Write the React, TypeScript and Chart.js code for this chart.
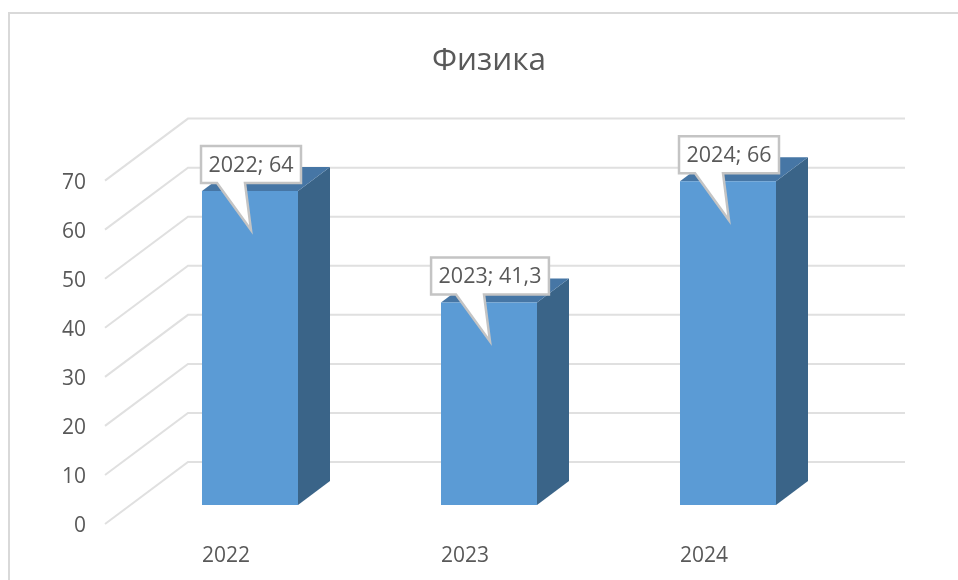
import React, { useEffect, useRef } from "react";
import { Chart, registerables } from "chart.js";

Chart.register(...registerables);

const categories = ["2022", "2023", "2024"];
const seriesValues = [64, 41.3, 66];
const chartTitle = "Физика";
const yMax = 70;
const yStep = 10;

const FONT = "'Open Sans', 'Noto Sans', sans-serif";
const TEXT = "#595959";
const GRID = "#e0e0e0";
const FRONT = "#5b9bd5";
const TOP = "#4676a5";
const SIDE = "#3a6488";

const depthX = 32;
const depthY = 24;
const wall = { frontX: 105, frontDy: 19, backX: 188, backDy: -43, right: 905 };

const frame3d = {
  id: "frame3d",
  beforeDraw(chart: any) {
    const { ctx, width, height } = chart;
    ctx.save();
    ctx.fillStyle = "#ffffff";
    ctx.fillRect(0, 0, width, height);
    ctx.strokeStyle = "#d9d9d9";
    ctx.lineWidth = 2;
    ctx.beginPath();
    ctx.moveTo(9, height);
    ctx.lineTo(9, 13);
    ctx.lineTo(width, 13);
    ctx.stroke();
    ctx.restore();
  },
  beforeDatasetsDraw(chart: any) {
    const { ctx } = chart;
    const yScale = chart.scales.y;
    ctx.save();
    ctx.strokeStyle = GRID;
    ctx.lineWidth = 2;
    yScale.ticks.forEach((t: any) => {
      const py = yScale.getPixelForValue(t.value);
      ctx.beginPath();
      ctx.moveTo(wall.frontX, py + wall.frontDy);
      ctx.lineTo(wall.backX, py + wall.backDy);
      ctx.lineTo(wall.right, py + wall.backDy);
      ctx.stroke();
    });
    chart.getDatasetMeta(0).data.forEach((bar: any) => {
      const l = bar.x - bar.width / 2;
      const r = bar.x + bar.width / 2;
      ctx.fillStyle = SIDE;
      ctx.beginPath();
      ctx.moveTo(r, bar.y);
      ctx.lineTo(r + depthX, bar.y - depthY);
      ctx.lineTo(r + depthX, bar.base - depthY);
      ctx.lineTo(r, bar.base);
      ctx.closePath();
      ctx.fill();
      ctx.fillStyle = TOP;
      ctx.beginPath();
      ctx.moveTo(l, bar.y);
      ctx.lineTo(l + depthX, bar.y - depthY);
      ctx.lineTo(r + depthX, bar.y - depthY);
      ctx.lineTo(r, bar.y);
      ctx.closePath();
      ctx.fill();
    });
    ctx.restore();
  },
  afterDatasetsDraw(chart: any) {
    const { ctx } = chart;
    ctx.save();
    ctx.font = `21.5px ${FONT}`;
    ctx.textAlign = "center";
    ctx.textBaseline = "middle";
    chart.getDatasetMeta(0).data.forEach((bar: any, i: number) => {
      const label = `${categories[i]}; ${String(seriesValues[i]).replace(".", ",")}`;
      const w = ctx.measureText(label).width + 15;
      const boxL = bar.x - w / 2 + 1;
      const boxR = boxL + w;
      const boxB = bar.y - 8;
      const boxT = boxB - 37;
      const tipX = bar.x + 1;
      const tipY = bar.y + 39;
      ctx.beginPath();
      ctx.moveTo(boxL, boxT);
      ctx.lineTo(boxR, boxT);
      ctx.lineTo(boxR, boxB);
      ctx.lineTo(bar.x - 5, boxB);
      ctx.lineTo(tipX, tipY);
      ctx.lineTo(bar.x - 33, boxB);
      ctx.lineTo(boxL, boxB);
      ctx.closePath();
      ctx.fillStyle = "#ffffff";
      ctx.fill();
      ctx.strokeStyle = "#c4c4c4";
      ctx.lineWidth = 2.5;
      ctx.stroke();
      ctx.fillStyle = TEXT;
      ctx.fillText(label, (boxL + boxR) / 2, (boxT + boxB) / 2 + 1);
    });
    ctx.restore();
  },
};

export default function App() {
  const ref = useRef<HTMLCanvasElement>(null);
  useEffect(() => {
    const chart = new Chart(ref.current!, {
      type: "bar",
      data: {
        labels: categories,
        datasets: [
          {
            data: seriesValues,
            backgroundColor: FRONT,
            borderWidth: 0,
            barPercentage: 0.4017,
            categoryPercentage: 1,
          },
        ],
      },
      options: {
        responsive: false,
        animation: false,
        layout: { padding: { top: 0, left: 0, right: 110.5, bottom: 0 } },
        plugins: {
          legend: { display: false },
          tooltip: { enabled: false },
          title: {
            display: true,
            text: chartTitle,
            fullSize: false,
            color: TEXT,
            font: { family: FONT, size: 31.5, weight: "normal", lineHeight: 1.2 },
            padding: { top: 42, bottom: 81.8 },
          },
        },
        scales: {
          x: {
            grid: { display: false, drawTicks: false },
            border: { display: false },
            ticks: {
              color: TEXT,
              font: { family: FONT, size: 21 },
              labelOffset: -24,
              padding: 38.5,
              maxRotation: 0,
            },
            afterFit: (s: any) => {
              s.height = 75;
            },
          },
          y: {
            min: 0,
            max: yMax,
            grid: { display: false, drawTicks: false },
            border: { display: false },
            ticks: {
              stepSize: yStep,
              color: TEXT,
              font: { family: FONT, size: 21 },
              labelOffset: 21,
              padding: 44.5,
            },
            afterFit: (s: any) => {
              s.width = 130.5;
            },
          },
        },
      },
      plugins: [frame3d],
    } as any);
    return () => chart.destroy();
  }, []);
  return (
    <div style={{ position: "fixed", left: 0, top: 0, width: 958, height: 580 }}>
      <canvas ref={ref} width={958} height={580} style={{ display: "block" }} />
    </div>
  );
}
